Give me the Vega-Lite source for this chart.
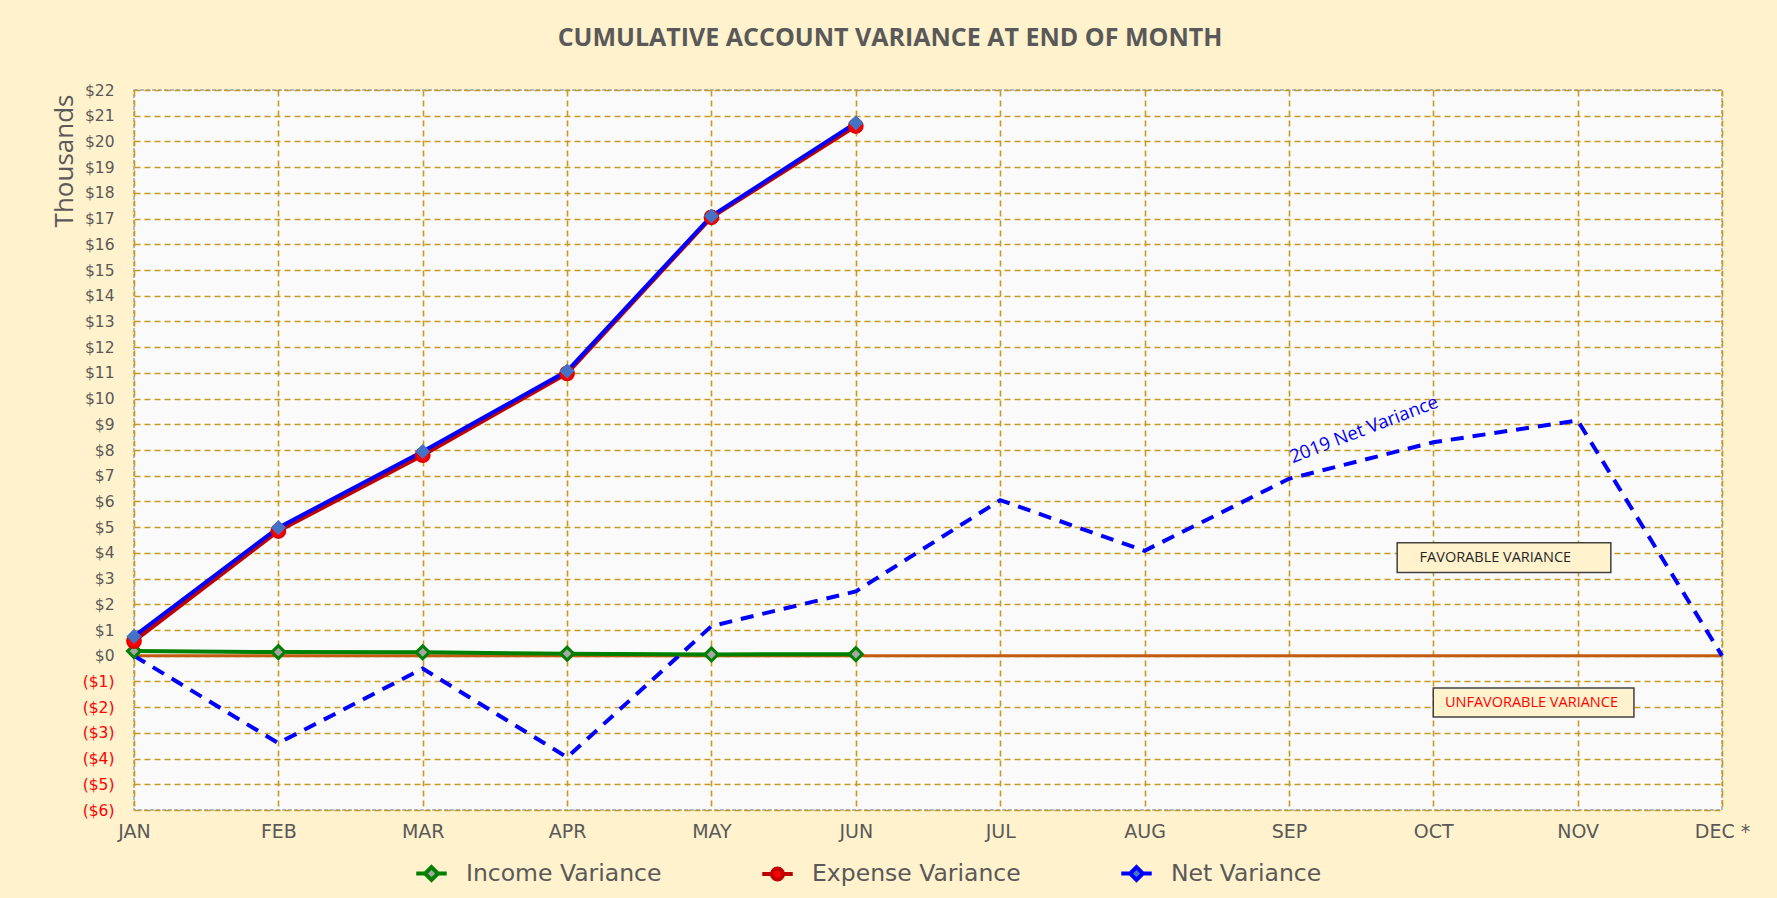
{
  "$schema": "https://vega.github.io/schema/vega-lite/v6.json",
  "width": 1588,
  "height": 720,
  "autosize": {"type": "none"},
  "padding": {"left": 134, "top": 90, "right": 55, "bottom": 88},
  "background": "#FFF2CC",
  "title": {
    "text": "CUMULATIVE ACCOUNT VARIANCE AT END OF MONTH",
    "font": "Open Sans",
    "fontSize": 25,
    "fontWeight": "bold",
    "color": "#595959",
    "anchor": "middle",
    "dx": -38,
    "offset": 32
  },
  "config": {
    "view": {"fill": "#FAFAFA", "stroke": "#8EA9C1", "strokeWidth": 1.5, "strokeDash": [4, 2]}
  },
  "datasets": {
    "series": [
      {"month": 1, "series": "Income Variance", "value": 0.18},
      {"month": 2, "series": "Income Variance", "value": 0.14},
      {"month": 3, "series": "Income Variance", "value": 0.13},
      {"month": 4, "series": "Income Variance", "value": 0.08},
      {"month": 5, "series": "Income Variance", "value": 0.05},
      {"month": 6, "series": "Income Variance", "value": 0.06},
      {"month": 1, "series": "Expense Variance", "value": 0.57},
      {"month": 2, "series": "Expense Variance", "value": 4.85},
      {"month": 3, "series": "Expense Variance", "value": 7.8},
      {"month": 4, "series": "Expense Variance", "value": 10.98},
      {"month": 5, "series": "Expense Variance", "value": 17.05},
      {"month": 6, "series": "Expense Variance", "value": 20.6},
      {"month": 1, "series": "Net Variance", "value": 0.75},
      {"month": 2, "series": "Net Variance", "value": 4.98},
      {"month": 3, "series": "Net Variance", "value": 7.94},
      {"month": 4, "series": "Net Variance", "value": 11.07},
      {"month": 5, "series": "Net Variance", "value": 17.1},
      {"month": 6, "series": "Net Variance", "value": 20.72}
    ],
    "prior": [
      {"month": 1, "value": 0},
      {"month": 2, "value": -3.4},
      {"month": 3, "value": -0.5},
      {"month": 4, "value": -3.95},
      {"month": 5, "value": 1.15},
      {"month": 6, "value": 2.5},
      {"month": 7, "value": 6.05},
      {"month": 8, "value": 4.08},
      {"month": 9, "value": 6.88},
      {"month": 10, "value": 8.3},
      {"month": 11, "value": 9.15},
      {"month": 12, "value": 0}
    ]
  },
  "encoding": {
    "x": {
      "field": "month",
      "type": "quantitative",
      "scale": {"domain": [1, 12], "nice": false, "zero": false},
      "axis": {
        "title": null,
        "values": [1, 2, 3, 4, 5, 6, 7, 8, 9, 10, 11, 12],
        "labelExpr": "['JAN','FEB','MAR','APR','MAY','JUN','JUL','AUG','SEP','OCT','NOV','DEC *'][datum.value - 1]",
        "grid": true,
        "gridColor": "#C99A1E",
        "gridDash": [6, 4],
        "gridWidth": 1.6,
        "ticks": false,
        "domain": false,
        "labelFont": "DejaVu Sans",
        "labelFontSize": 19,
        "labelColor": "#595959",
        "labelPadding": 12,
        "labelFlush": false
      }
    },
    "y": {
      "field": "value",
      "type": "quantitative",
      "scale": {"domain": [-6, 22], "nice": false, "zero": false},
      "axis": {
        "title": "Thousands",
        "titleFont": "Open Sans",
        "titleFontSize": 26,
        "titleFontWeight": "normal",
        "titleColor": "#595959",
        "titleAnchor": "end",
        "titleY": 4,
        "titlePadding": 5,
        "values": [-6, -5, -4, -3, -2, -1, 0, 1, 2, 3, 4, 5, 6, 7, 8, 9, 10, 11, 12, 13, 14, 15, 16, 17, 18, 19, 20, 21, 22],
        "labelExpr": "datum.value < 0 ? '($' + (-datum.value) + ')' : '$' + datum.value",
        "labelColor": {"condition": {"test": "datum.value < 0", "value": "#FF0000"}, "value": "#595959"},
        "labelFont": "DejaVu Sans",
        "labelFontSize": 15.5,
        "labelPadding": 20,
        "grid": true,
        "gridColor": "#C99A1E",
        "gridDash": [6, 4],
        "gridWidth": 1.6,
        "ticks": false,
        "domain": false
      }
    }
  },
  "layer": [
    {
      "data": {"values": [{"month": 1, "value": 0}, {"month": 12, "value": 0}]},
      "mark": {"type": "line", "color": "#C55A11", "strokeWidth": 3}
    },
    {
      "data": {"values": [
        {"month": 9.75, "month2": 11.23, "value": 3.24, "value2": 4.39},
        {"month": 10.0, "month2": 11.39, "value": -2.38, "value2": -1.26}
      ]},
      "mark": {"type": "rect", "fill": "#FFF2CC", "stroke": "#404040", "strokeWidth": 1.5},
      "encoding": {
        "x2": {"field": "month2"},
        "y2": {"field": "value2"}
      }
    },
    {
      "data": {"values": [{"month": 10.43, "value": 3.8, "note": "FAVORABLE VARIANCE"}]},
      "mark": {"type": "text", "font": "Open Sans", "fontSize": 14.5, "color": "#262626", "align": "center", "baseline": "middle"},
      "encoding": {"text": {"field": "note"}}
    },
    {
      "data": {"values": [{"month": 10.68, "value": -1.84, "note": "UNFAVORABLE VARIANCE"}]},
      "mark": {"type": "text", "font": "Open Sans", "fontSize": 14.5, "color": "#FF0000", "align": "center", "baseline": "middle"},
      "encoding": {"text": {"field": "note"}}
    },
    {
      "data": {"name": "prior"},
      "mark": {"type": "line", "color": "#0000FF", "strokeWidth": 4, "strokeDash": [13, 9]}
    },
    {
      "data": {"values": [{"month": 9.52, "value": 8.8, "note": "2019 Net Variance"}]},
      "mark": {"type": "text", "font": "Open Sans", "fontSize": 18.5, "color": "#0000FF", "align": "center", "baseline": "middle", "angle": -21},
      "encoding": {"text": {"field": "note"}}
    },
    {
      "data": {"name": "series"},
      "mark": {"type": "line"},
      "encoding": {
        "color": {
          "field": "series",
          "type": "nominal",
          "scale": {"domain": ["Income Variance", "Expense Variance", "Net Variance"], "range": ["#008000", "#C00000", "#0000FF"]},
          "legend": {
            "orient": "none",
            "legendX": 280,
            "legendY": 766,
            "direction": "horizontal",
            "title": null,
            "padding": 0,
            "symbolType": "M-1,0L-0.42,0M0.42,0L1,0M0,-0.42L0.42,0L0,0.42L-0.42,0Z",
            "symbolSize": 930,
            "symbolStrokeWidth": 3.5,
            "labelFont": "DejaVu Sans",
            "labelFontSize": 23.5,
            "labelColor": "#595959",
            "labelLimit": 500,
            "labelOffset": 17,
            "columnPadding": 92,
            "encode": {
              "symbols": {
                "update": {
                  "shape": {"signal": "datum.value == 'Expense Variance' ? 'M-1,0L-0.36,0M0.36,0L1,0M-0.36,0A0.36,0.36,0,1,0,0.36,0A0.36,0.36,0,1,0,-0.36,0Z' : 'M-1,0L-0.42,0M0.42,0L1,0M0,-0.42L0.42,0L0,0.42L-0.42,0Z'"},
                  "fill": {"signal": "datum.value == 'Income Variance' ? '#A6A6A6' : (datum.value == 'Expense Variance' ? '#FF0000' : '#4472C4')"},
                  "fillOpacity": {"value": 1}
                }
              }
            }
          }
        },
        "strokeWidth": {
          "field": "series",
          "type": "nominal",
          "scale": {"domain": ["Income Variance", "Expense Variance", "Net Variance"], "range": [4, 4, 5]},
          "legend": null
        }
      }
    },
    {
      "data": {"name": "series"},
      "transform": [{"filter": "datum.series == 'Income Variance'"}],
      "mark": {"type": "point", "shape": "diamond", "filled": true, "fill": "#A6A6A6", "stroke": "#008000", "strokeWidth": 3, "opacity": 1, "size": 170}
    },
    {
      "data": {"name": "series"},
      "transform": [{"filter": "datum.series == 'Expense Variance'"}],
      "mark": {"type": "point", "shape": "circle", "filled": true, "fill": "#FF0000", "stroke": "#E00000", "strokeWidth": 2, "opacity": 1, "size": 190}
    },
    {
      "data": {"name": "series"},
      "transform": [{"filter": "datum.series == 'Net Variance'"}],
      "mark": {"type": "point", "shape": "diamond", "filled": true, "fill": "#4472C4", "stroke": "#4472C4", "strokeWidth": 1, "opacity": 1, "size": 200}
    }
  ]
}
